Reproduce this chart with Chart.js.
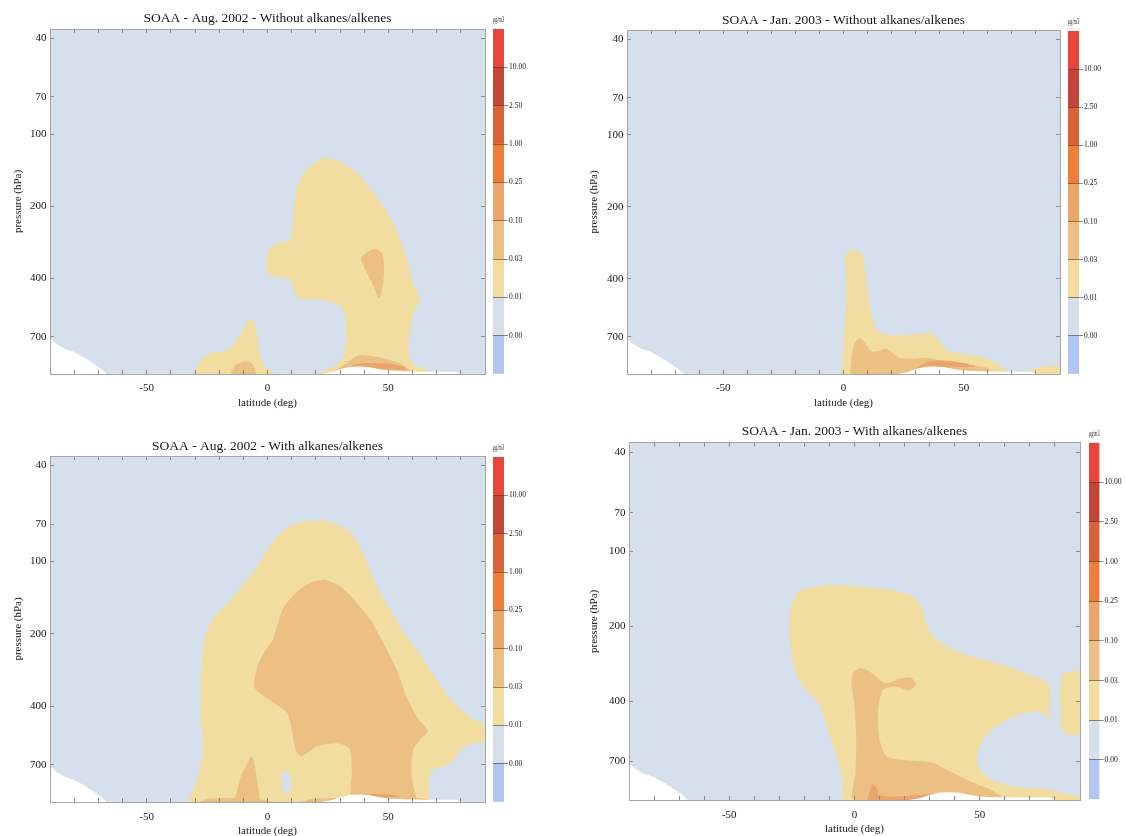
<!DOCTYPE html>
<html>
<head>
<meta charset="utf-8">
<title>SOAA zonal means</title>
<script src="https://cdn.jsdelivr.net/npm/chart.js@4.4.1/dist/chart.umd.min.js"></script>
<style>
  html, body { margin: 0; padding: 0; background: #fff; }
  body { position: relative; width: 1125px; height: 836px; overflow: hidden; }
  canvas { position: absolute; }
</style>
</head>
<body>
<script>
// colour levels (µg/m3), bottom of the colour bar first
const LEVEL_LABELS = ['0.00', '0.01', '0.03', '0.10', '0.25', '1.00', '2.50', '10.00'];
const LEVEL_COLORS = ['#b1c5f3', '#d5e0ec', '#f1dda0', '#ecbf83', '#eaa56a', '#ef7e38', '#da6239', '#c4463b', '#e8453d'];
const UNIT = 'μg/m3';
const GROUND = '#ffffff';

const LAT_RANGE = [-90, 90];
const LAT_LABELS = [-50, 0, 50];
const P_RANGE = [36.5, 1000];
const P_TICKS = [40, 70, 100, 200, 400, 700];

// contour polygons, [latitude (deg), pressure (hPa)]
const domainBox = [[-90, 36.5], [90, 36.5], [90, 1000], [-90, 1000]];
const topoSouth = [[-90, 711], [-87.7, 746], [-84.3, 783], [-80.2, 808], [-75.4, 859], [-72, 904], [-68.5, 958], [-66.5, 1000], [-90, 1000]];
const topoNorth = [[22, 1000], [26, 985], [30, 955], [34, 932], [38, 930], [42, 936], [46, 955], [50, 967], [56, 975], [65, 978], [78, 978], [80, 1000]];

// Aug. 2002, without alkanes/alkenes
const augWoYellowMain = [[23.6, 125], [29.8, 130], [36.6, 144], [42.1, 167], [47.5, 196], [51.6, 229], [55.1, 278], [57.8, 336], [59.8, 407], [62.3, 462], [62.6, 509], [60.5, 551], [59.2, 636], [58.5, 734], [58.5, 834], [60.5, 918], [65.3, 957], [67, 1000],
  [21.6, 1000], [24.3, 958], [28.4, 918], [31.1, 859], [32.2, 764], [32.5, 650], [31.8, 556], [28.4, 509], [21.6, 492], [13.4, 484], [11.3, 462], [9.3, 407], [3.8, 395], [0, 381], [-0.5, 336], [0.8, 301], [5.2, 282], [9.3, 278], [10.7, 213], [12, 172], [14.8, 146], [18.9, 133]];
const augWoYellowSouth = [[-30.3, 1000], [-27.6, 875], [-23.5, 821], [-16.7, 795], [-13.3, 734], [-9.8, 650], [-7.8, 597], [-5.7, 593], [-4.4, 678], [-3.3, 821], [-1.6, 918], [2.5, 1000]];
const augWoOrangeCore = [[38.7, 326], [44.1, 300], [47.5, 315], [48.2, 381], [47.3, 448], [46.2, 484], [43.4, 420], [40.7, 370], [38.7, 336]];
const augWoOrangeSurf = [[26, 1000], [29, 955], [33, 895], [38, 834], [45, 848], [50, 870], [55, 908], [58.5, 958], [60, 1000]];
const augWoOrangeSouth = [[-15.3, 1000], [-13.3, 918], [-9.2, 885], [-6.4, 905], [-4.6, 1000]];
const augWoDarkSurf = [[32, 955], [36, 915], [42, 898], [50, 905], [56, 932], [58, 958], [45, 952]];

// Jan. 2003, without alkanes/alkenes
const janWoYellowMain = [[-0.7, 1000], [-0.3, 838], [0.3, 652], [1.4, 474], [1.1, 378], [0.7, 323], [2.7, 304], [5.5, 304], [8.2, 323], [8.9, 367], [10.3, 474], [11.6, 556], [13.7, 652], [17.8, 684], [23.3, 690], [28.8, 686], [32.9, 678], [37, 680], [39.7, 730], [43.8, 803], [49.3, 821], [54.8, 837], [58.9, 856], [63, 898], [66.4, 940], [68.5, 1000]];
const janWoYellowPole = [[77, 1000], [78.5, 960], [82, 932], [90, 928], [90, 1000]];
const janWoOrange = [[2.7, 1000], [3.4, 838], [4.8, 742], [6.8, 707], [8.9, 742], [11.6, 803], [14.4, 803], [17.8, 785], [20.5, 821], [23.3, 856], [28.8, 864], [34.2, 856], [39.7, 875], [47.9, 912], [54.8, 926], [60.3, 947], [61.6, 1000]];
const janWoDark = [[30, 945], [35, 888], [42, 878], [50, 900], [55, 928], [48, 938], [38, 934]];

// Aug. 2002, with alkanes/alkenes
const augWYellow = [[16.4, 68], [24.7, 68], [32.9, 74], [38.4, 87], [41.8, 105], [45.2, 127], [50.7, 159], [57.5, 205], [63.7, 248], [69.9, 310], [75.3, 370], [80.2, 412], [86, 460], [90, 475], [90, 558], [84.6, 570], [80.2, 604], [76.5, 680], [72, 715], [68.5, 735], [67, 790], [66.8, 900], [66.5, 1000],
  [-32.2, 1000], [-30.1, 862], [-28.1, 734], [-26.7, 607], [-27.4, 485], [-27.7, 388], [-27.4, 301], [-26.7, 233], [-24.7, 192], [-21.9, 169], [-16.4, 149], [-9.6, 123], [-4.1, 105], [0, 89], [5.5, 76], [11, 70]];
const augWHole = [[7.5, 740], [9.3, 771], [9.9, 834], [9.3, 904], [7.5, 925], [5.9, 874], [5.5, 800], [6.2, 752]];
const augWOrange = [[24, 119], [30.1, 127], [37, 149], [42.5, 175], [47.9, 218], [53.4, 282], [57.5, 364], [61.6, 441], [65.1, 485], [66.4, 510], [63, 551], [60.3, 607], [59.6, 734], [60.3, 862], [61.6, 960], [62, 1000],
  [35.6, 1000], [34.9, 734], [34.2, 607], [31.5, 578], [27.4, 570], [20.5, 587], [16.4, 626], [13.7, 644], [11.6, 607], [10.3, 517], [8.2, 427], [2.7, 388], [-4.8, 342], [-5.5, 320], [-4.1, 273], [-1.4, 240], [2.1, 212], [6.2, 159], [10.3, 140], [15.1, 127], [19.2, 121]];
const augWOrangeSpike = [[-13.7, 1000], [-11, 784], [-8.2, 689], [-6.6, 644], [-5.2, 712], [-4.1, 834], [-3, 1000]];
const augWOrangeSurfS = [[-28, 1000], [-25, 972], [-15, 962], [-5, 972], [0, 985], [2, 1000]];
const augWOrangeSurfN = [[14, 1000], [18, 972], [28, 962], [36, 962], [62, 962], [66, 975], [68, 1000]];
const augWDark = [[30, 955], [34, 935], [42, 926], [50, 930], [55, 945], [50, 958], [40, 958]];

// Jan. 2003, with alkanes/alkenes
const janWYellow = [[-23.3, 147.5], [-19.3, 141], [-8.7, 136], [4.7, 139], [15.3, 143], [23.3, 152], [26.7, 167], [28.7, 194], [31.3, 220], [36.7, 241], [44.7, 261], [54, 277], [63.3, 295], [71.3, 318], [75.5, 330], [77.7, 345], [77.8, 420], [77.5, 480], [76, 450], [71.3, 440], [63.3, 461], [56.7, 505], [51.3, 571], [48.9, 666], [50, 754], [54, 826], [60.7, 866], [67.3, 893], [76, 902], [82, 930], [88, 960], [90, 965], [90, 1000],
  [-4, 1000], [-4.7, 826], [-6, 731], [-8, 626], [-10.7, 521], [-12.7, 446], [-15.3, 395], [-19.3, 360], [-23.3, 308], [-25.3, 256], [-26, 201], [-25.3, 167]];
const janWYellowPole = [[82, 380], [82.5, 320], [85, 305], [90, 305], [90, 535], [85, 545], [82.5, 510]];
const janWOrange = [[-0.7, 308], [2, 295], [6, 304], [10, 328], [12.7, 339], [15.3, 333], [19.3, 323], [22.7, 323], [24.4, 344], [22, 362], [18.7, 355], [15.3, 349], [11.3, 360], [10, 395], [9.3, 461], [10, 571], [12.7, 666], [18, 687], [26, 698], [31.3, 708], [36.7, 754], [42, 802], [47.3, 851], [54, 906], [58, 960], [59, 1000],
  [0, 1000], [0.4, 777], [0.7, 571], [0, 420], [-1.3, 339]];
const janWDark = [[5, 1000], [6, 930], [7.3, 860], [9, 900], [10, 955], [15, 970], [25, 955], [33, 945], [40, 960], [42, 1000]];

const SERIF = '"Liberation Serif", "DejaVu Serif", serif';
const TEXT = '#161616';
const EDGE = 4; // room right of the frame, also the x tick label padding

function band(pts, level) { return { pts, color: LEVEL_COLORS[level], tension: 0.25 }; }
function flat(pts, color) { return { pts, color, tension: 0 }; }

const PANELS = [
  {
    title: 'SOAA - Aug. 2002 - Without alkanes/alkenes',
    layers: [flat(domainBox, LEVEL_COLORS[1]), band(augWoYellowMain, 2), band(augWoYellowSouth, 2), band(augWoOrangeCore, 3),
      band(augWoOrangeSurf, 3), band(augWoOrangeSouth, 3), band(augWoDarkSurf, 4), flat(topoSouth, GROUND), flat(topoNorth, GROUND)],
    box: { left: 0, top: 0, height: 415 },
    area: { left: 50, top: 29, right: 485, bottom: 374 },
    titleY: 18, yTitleX: 18, xLabelY: 388, xTitleY: 403,
    bar: { left: 488, top: 0, width: 45, height: 380, area: { left: 5, top: 29, right: 16, bottom: 374 }, unitY: 20 }
  },
  {
    title: 'SOAA - Jan. 2003 - Without alkanes/alkenes',
    layers: [flat(domainBox, LEVEL_COLORS[1]), band(janWoYellowMain, 2), band(janWoYellowPole, 2), band(janWoOrange, 3),
      band(janWoDark, 4), flat(topoSouth, GROUND), flat(topoNorth, GROUND)],
    box: { left: 565, top: 0, height: 415 },
    area: { left: 62, top: 30, right: 495, bottom: 374 },
    titleY: 20, yTitleX: 29, xLabelY: 388, xTitleY: 403,
    bar: { left: 1063, top: 0, width: 45, height: 380, area: { left: 5, top: 31, right: 16, bottom: 374 }, unitY: 22 }
  },
  {
    title: 'SOAA - Aug. 2002 - With alkanes/alkenes',
    layers: [flat(domainBox, LEVEL_COLORS[1]), band(augWYellow, 2), flat(augWHole, LEVEL_COLORS[1]), band(augWOrange, 3),
      band(augWOrangeSpike, 3), band(augWOrangeSurfS, 3), band(augWOrangeSurfN, 3), band(augWDark, 4), flat(topoSouth, GROUND), flat(topoNorth, GROUND)],
    box: { left: 0, top: 420, height: 420 },
    area: { left: 50, top: 36, right: 485, bottom: 382 },
    titleY: 26, yTitleX: 18, xLabelY: 396.7, xTitleY: 410.7,
    bar: { left: 488, top: 420, width: 45, height: 390, area: { left: 5, top: 37, right: 16, bottom: 382 }, unitY: 28 }
  },
  {
    title: 'SOAA - Jan. 2003 - With alkanes/alkenes',
    layers: [flat(domainBox, LEVEL_COLORS[1]), band(janWYellow, 2), band(janWYellowPole, 2), band(janWOrange, 3),
      band(janWDark, 4), flat(topoSouth, GROUND), flat(topoNorth, GROUND)],
    box: { left: 565, top: 420, height: 420 },
    area: { left: 64, top: 22.7, right: 515, bottom: 380 },
    titleY: 11.7, yTitleX: 29, xLabelY: 395, xTitleY: 409.3,
    bar: { left: 1084, top: 420, width: 41, height: 385, area: { left: 5, top: 22.7, right: 15.5, bottom: 380 }, unitY: 14 }
  }
];

Chart.defaults.font.family = SERIF;

function addCanvas(box) {
  const c = document.createElement('canvas');
  c.width = box.width;
  c.height = box.height;
  c.style.left = box.left + 'px';
  c.style.top = box.top + 'px';
  document.body.appendChild(c);
  return c.getContext('2d');
}

function renderPanel(p) {
  const a = p.area;
  const n = p.layers.length;
  const box = { ...p.box, width: a.right + EDGE };
  const tickFont = { family: SERIF, size: 11 };
  // tall line box so the labels sit where the reference puts them
  const xTickFont = { family: SERIF, size: 11, lineHeight: (2 * (p.xLabelY - a.bottom)) + 'px' };
  const axisFont = { family: SERIF, size: 11 };
  const frameGrid = { drawOnChartArea: false, tickLength: -4, color: '#8a8a8a', z: 1 };
  const frameBorder = { color: '#a5a5a5', z: 1 };
  const pressureTicks = s => { s.ticks = P_TICKS.map(v => ({ value: v })); };

  const datasets = p.layers.map((layer, i) => ({
    data: layer.pts.map(([lat, hpa]) => ({ x: lat, y: hpa })),
    backgroundColor: layer.color,
    borderColor: layer.color,
    borderWidth: 0,
    fill: 'shape',
    pointRadius: 0,
    tension: layer.tension,
    order: n - i
  }));

  new Chart(addCanvas(box), {
    type: 'line',
    data: { datasets },
    options: {
      responsive: false,
      animation: false,
      events: [],
      layout: { padding: 0 },
      plugins: {
        legend: { display: false },
        tooltip: { enabled: false },
        title: {
          display: true, text: p.title, fullSize: false, color: TEXT,
          font: { family: SERIF, size: 13.5, weight: 'normal', lineHeight: 1 },
          padding: { top: p.titleY - 6.75, bottom: a.top - p.titleY - 6.75 }
        }
      },
      scales: {
        x: {
          type: 'linear', position: 'bottom', min: LAT_RANGE[0], max: LAT_RANGE[1],
          ticks: {
            stepSize: 10, autoSkip: false, maxRotation: 0, color: TEXT, font: xTickFont, padding: EDGE,
            callback: v => LAT_LABELS.includes(v) ? String(v) : ''
          },
          grid: frameGrid,
          border: frameBorder,
          title: { display: true, text: 'latitude (deg)', color: TEXT, font: axisFont, padding: { top: 0, bottom: box.height - p.xTitleY - 6.6 } },
          afterFit: s => { s.height = box.height - a.bottom; }
        },
        x2: {
          type: 'linear', position: 'top', min: LAT_RANGE[0], max: LAT_RANGE[1],
          ticks: { stepSize: 10, autoSkip: false, display: false },
          grid: frameGrid,
          border: frameBorder,
          afterFit: s => { s.height = 0; }
        },
        y: {
          type: 'logarithmic', position: 'left', reverse: true, min: P_RANGE[0], max: P_RANGE[1],
          afterBuildTicks: pressureTicks,
          ticks: { autoSkip: false, color: TEXT, font: tickFont, padding: 7.5, callback: v => String(v) },
          grid: frameGrid,
          border: frameBorder,
          title: { display: true, text: 'pressure (hPa)', color: TEXT, font: axisFont, padding: { top: p.yTitleX - 6.6, bottom: 0 } },
          afterFit: s => { s.width = a.left; }
        },
        y2: {
          type: 'logarithmic', position: 'right', reverse: true, min: P_RANGE[0], max: P_RANGE[1],
          afterBuildTicks: pressureTicks,
          ticks: { display: false },
          grid: frameGrid,
          border: frameBorder,
          afterFit: s => { s.width = EDGE; }
        }
      }
    }
  });
}

function renderColorbar(p) {
  const b = p.bar;
  const a = b.area;
  const top = LEVEL_COLORS.length;

  new Chart(addCanvas(b), {
    type: 'bar',
    data: {
      labels: [''],
      datasets: LEVEL_COLORS.map(color => ({
        data: [1], backgroundColor: color, borderWidth: 0, barPercentage: 1, categoryPercentage: 1
      }))
    },
    options: {
      responsive: false,
      animation: false,
      events: [],
      layout: { padding: { left: a.left, right: 0, top: 0, bottom: b.height - a.bottom } },
      plugins: {
        legend: { display: false },
        tooltip: { enabled: false },
        title: {
          display: true, text: UNIT, fullSize: false, color: TEXT,
          font: { family: SERIF, size: 7.5, weight: 'normal', lineHeight: 1 },
          padding: { top: b.unitY - 3.75, bottom: a.top - b.unitY - 3.75 }
        }
      },
      scales: {
        x: { stacked: true, display: false },
        y: {
          stacked: true, position: 'right', min: 0, max: top,
          ticks: { stepSize: 1, autoSkip: false, color: TEXT, font: { family: SERIF, size: 7.5 }, padding: 1,
            callback: v => LEVEL_LABELS[v - 1] || '' },
          grid: {
            tickLength: 4, z: 1,
            color: c => (c.tick && c.tick.value > 0 && c.tick.value < top) ? 'rgba(85,55,35,0.6)' : 'rgba(0,0,0,0)'
          },
          border: { display: false },
          afterFit: s => { s.width = b.width - a.right; }
        }
      }
    }
  });
}

PANELS.forEach(p => {
  renderPanel(p);
  renderColorbar(p);
});
</script>
</body>
</html>
